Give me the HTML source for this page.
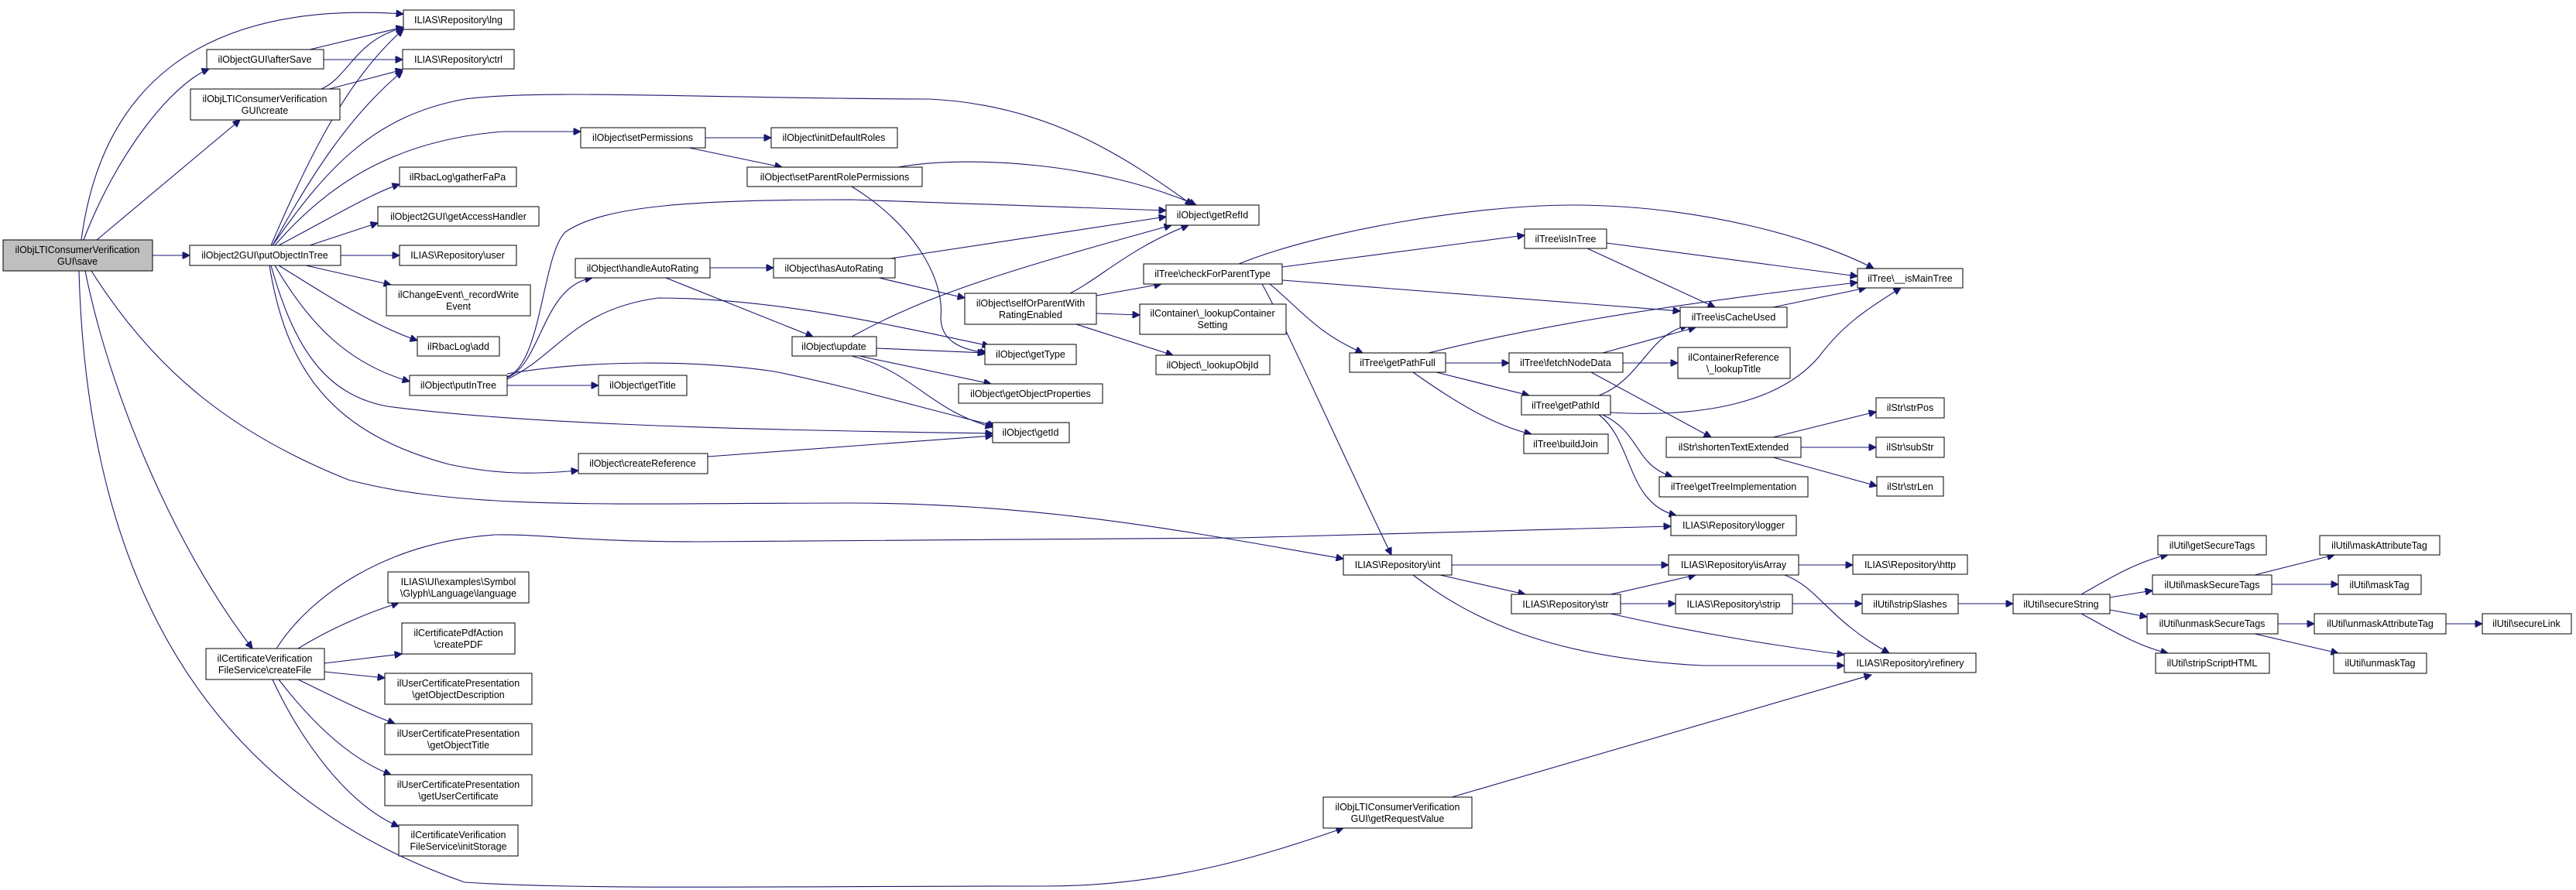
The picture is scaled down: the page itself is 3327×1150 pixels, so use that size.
<!DOCTYPE html>
<html><head><meta charset="utf-8"><style>
html,body{margin:0;padding:0;background:#fff;}
svg{display:block;}
text{font-family:"Liberation Sans",Arial,sans-serif;font-size:12.5px;fill:#000;text-anchor:middle;}
rect{fill:#fff;stroke:#000;stroke-width:1;}
path{fill:none;stroke:#191970;stroke-width:1.1;}
</style></head><body>
<svg width="3327" height="1150" viewBox="0 0 3327 1150" xmlns="http://www.w3.org/2000/svg">
<defs><marker id="a" viewBox="0 0 10 10" refX="10" refY="5" markerWidth="11" markerHeight="9" markerUnits="userSpaceOnUse" orient="auto"><path d="M0,0 L10,5 L0,10 z" style="fill:#191970;stroke:#191970"/></marker></defs>
<g marker-end="url(#a)">
<path d="M105,310 C130,120 250,0 521,18"/>
<path d="M108,310 C150,200 220,110 270,89"/>
<path d="M125,310 L310,155"/>
<path d="M197,330 L245,330"/>
<path d="M118,350 C200,480 300,560 450,620 C600,660 800,650 1100,650 C1350,650 1550,690 1735,722"/>
<path d="M110,350 C140,500 220,700 326,838"/>
<path d="M102,350 C110,650 200,1000 600,1140 C750,1150 1000,1145 1350,1145 C1500,1145 1620,1110 1735,1070"/>
<path d="M350,317 C400,200 450,100 521,38"/>
<path d="M352,317 C400,230 450,150 520,92"/>
<path d="M352,317 C420,220 480,150 600,128 C700,115 900,127 1200,128 C1350,135 1450,200 1540,265"/>
<path d="M355,317 C430,230 520,180 650,170 L750,170"/>
<path d="M360,317 C430,280 480,250 516,238"/>
<path d="M400,317 L488,288"/>
<path d="M440,330 L516,330"/>
<path d="M395,343 L505,368"/>
<path d="M360,343 C420,380 480,420 539,440"/>
<path d="M355,343 C400,420 450,470 529,493"/>
<path d="M350,343 C380,450 420,510 500,525 C650,545 900,555 1282,560"/>
<path d="M348,343 C370,480 430,560 580,600 C650,615 700,612 747,608"/>
<path d="M400,64 L521,35"/>
<path d="M418,77 L520,77"/>
<path d="M415,115 C450,100 460,50 521,36"/>
<path d="M425,115 L520,90"/>
<path d="M911,178 L996,178"/>
<path d="M890,191 L1010,216"/>
<path d="M1160,216 C1250,200 1420,210 1545,265"/>
<path d="M1100,241 C1180,290 1220,360 1215,410 C1215,440 1240,452 1275,456"/>
<path d="M655,488 C700,470 700,370 765,359"/>
<path d="M655,487 C700,470 700,330 730,300 C780,265 900,258 1100,258 L1506,272"/>
<path d="M655,490 C720,460 740,400 850,385 C1000,385 1150,420 1278,447"/>
<path d="M655,498 L773,498"/>
<path d="M655,483 C760,465 900,465 1000,480 C1100,500 1200,530 1285,550"/>
<path d="M917,346 L999,346"/>
<path d="M860,359 L1050,435"/>
<path d="M1150,334 L1506,280"/>
<path d="M1135,359 L1246,385"/>
<path d="M1100,435 C1200,380 1300,350 1513,291"/>
<path d="M1132,450 L1272,456"/>
<path d="M1110,460 L1280,496"/>
<path d="M1100,460 C1180,480 1200,530 1282,552"/>
<path d="M1382,379 C1420,360 1460,320 1535,291"/>
<path d="M1416,382 L1500,367"/>
<path d="M1416,405 L1472,407"/>
<path d="M1390,419 L1515,459"/>
<path d="M1600,341 C1700,300 1900,265 2030,265 C2200,265 2350,310 2420,347"/>
<path d="M1656,345 L1969,304"/>
<path d="M1656,362 L2170,402"/>
<path d="M1640,367 C1680,400 1700,430 1760,456"/>
<path d="M1630,367 C1660,420 1740,600 1797,717"/>
<path d="M2075,314 L2399,357"/>
<path d="M2050,321 L2215,397"/>
<path d="M2290,397 L2410,372"/>
<path d="M1845,456 C1950,430 2100,400 2399,365"/>
<path d="M1867,469 L1949,469"/>
<path d="M1855,481 L1975,511"/>
<path d="M1825,481 C1880,520 1930,550 1978,561"/>
<path d="M2070,456 L2190,423"/>
<path d="M2096,469 L2167,469"/>
<path d="M2055,481 L2210,565"/>
<path d="M2065,511 C2120,490 2130,430 2180,421"/>
<path d="M2080,533 C2200,540 2300,520 2350,460 C2380,420 2410,400 2455,372"/>
<path d="M2070,536 C2120,560 2110,600 2160,616"/>
<path d="M2065,536 C2110,570 2100,650 2165,666"/>
<path d="M2290,565 L2423,532"/>
<path d="M2326,578 L2423,578"/>
<path d="M2290,591 L2424,628"/>
<path d="M1875,730 L2155,730"/>
<path d="M1860,743 L1970,768"/>
<path d="M1825,743 C1900,800 2000,850 2200,860 L2382,860"/>
<path d="M2080,793 C2200,820 2300,835 2382,846"/>
<path d="M2080,768 L2190,743"/>
<path d="M2093,780 L2164,780"/>
<path d="M2323,730 L2393,730"/>
<path d="M2305,743 C2350,760 2360,800 2440,844"/>
<path d="M2315,780 L2405,780"/>
<path d="M2529,780 L2600,780"/>
<path d="M2688,768 C2720,750 2760,725 2800,717"/>
<path d="M2725,772 L2780,763"/>
<path d="M2725,788 L2773,797"/>
<path d="M2688,793 C2720,810 2760,835 2800,844"/>
<path d="M2912,743 L3015,717"/>
<path d="M2934,755 L3020,755"/>
<path d="M2942,806 L2989,806"/>
<path d="M2912,819 L3020,844"/>
<path d="M3159,806 L3206,806"/>
<path d="M1875,1030 L2417,872"/>
<path d="M357,838 C400,770 500,700 640,691 C700,690 750,700 900,700 L1600,695 L2158,680"/>
<path d="M385,838 C430,810 480,790 515,779"/>
<path d="M419,857 L519,845"/>
<path d="M419,868 L497,876"/>
<path d="M385,878 C430,900 470,920 510,935"/>
<path d="M360,878 C400,930 450,980 505,1001"/>
<path d="M352,878 C390,960 450,1040 515,1068"/>
<path d="M914,590 L1282,563"/>
</g>
<g>
<rect x="4" y="310" width="193" height="40" style="fill:#bfbfbf"/><text x="100" y="327">ilObjLTIConsumerVerification</text><text x="100" y="342">GUI\save</text>
<rect x="267" y="64" width="151" height="25"/><text x="342" y="81">ilObjectGUI\afterSave</text>
<rect x="246" y="115" width="193" height="40"/><text x="342" y="132">ilObjLTIConsumerVerification</text><text x="342" y="147">GUI\create</text>
<rect x="245" y="317" width="195" height="26"/><text x="342" y="334">ilObject2GUI\putObjectInTree</text>
<rect x="521" y="13" width="143" height="25"/><text x="592" y="30">ILIAS\Repository\lng</text>
<rect x="520" y="64" width="144" height="25"/><text x="592" y="81">ILIAS\Repository\ctrl</text>
<rect x="516" y="216" width="151" height="25"/><text x="591" y="233">ilRbacLog\gatherFaPa</text>
<rect x="488" y="267" width="208" height="25"/><text x="592" y="284">ilObject2GUI\getAccessHandler</text>
<rect x="516" y="317" width="151" height="26"/><text x="591" y="334">ILIAS\Repository\user</text>
<rect x="499" y="368" width="186" height="40"/><text x="592" y="385">ilChangeEvent\_recordWrite</text><text x="592" y="400">Event</text>
<rect x="539" y="435" width="106" height="25"/><text x="592" y="452">ilRbacLog\add</text>
<rect x="529" y="485" width="126" height="26"/><text x="592" y="502">ilObject\putInTree</text>
<rect x="747" y="586" width="167" height="26"/><text x="830" y="603">ilObject\createReference</text>
<rect x="750" y="165" width="161" height="26"/><text x="830" y="182">ilObject\setPermissions</text>
<rect x="996" y="165" width="163" height="26"/><text x="1077" y="182">ilObject\initDefaultRoles</text>
<rect x="965" y="216" width="226" height="25"/><text x="1078" y="233">ilObject\setParentRolePermissions</text>
<rect x="743" y="334" width="174" height="25"/><text x="830" y="351">ilObject\handleAutoRating</text>
<rect x="999" y="334" width="157" height="25"/><text x="1077" y="351">ilObject\hasAutoRating</text>
<rect x="1023" y="435" width="109" height="25"/><text x="1077" y="452">ilObject\update</text>
<rect x="773" y="485" width="114" height="26"/><text x="830" y="502">ilObject\getTitle</text>
<rect x="1506" y="265" width="120" height="26"/><text x="1566" y="282">ilObject\getRefId</text>
<rect x="1246" y="379" width="170" height="40"/><text x="1331" y="396">ilObject\selfOrParentWith</text><text x="1331" y="411">RatingEnabled</text>
<rect x="1477" y="341" width="179" height="26"/><text x="1566" y="358">ilTree\checkForParentType</text>
<rect x="1472" y="393" width="189" height="39"/><text x="1566" y="409">ilContainer\_lookupContainer</text><text x="1566" y="424">Setting</text>
<rect x="1493" y="459" width="147" height="25"/><text x="1566" y="476">ilObject\_lookupObjId</text>
<rect x="1272" y="445" width="118" height="26"/><text x="1331" y="462">ilObject\getType</text>
<rect x="1238" y="496" width="186" height="25"/><text x="1331" y="513">ilObject\getObjectProperties</text>
<rect x="1282" y="546" width="99" height="26"/><text x="1331" y="563">ilObject\getId</text>
<rect x="1969" y="296" width="106" height="25"/><text x="2022" y="313">ilTree\isInTree</text>
<rect x="2170" y="397" width="138" height="26"/><text x="2239" y="414">ilTree\isCacheUsed</text>
<rect x="2399" y="347" width="136" height="25"/><text x="2467" y="364">ilTree\__isMainTree</text>
<rect x="1743" y="456" width="124" height="25"/><text x="1805" y="473">ilTree\getPathFull</text>
<rect x="1949" y="456" width="147" height="25"/><text x="2022" y="473">ilTree\fetchNodeData</text>
<rect x="2167" y="449" width="145" height="40"/><text x="2239" y="466">ilContainerReference</text><text x="2239" y="481">\_lookupTitle</text>
<rect x="1965" y="511" width="115" height="25"/><text x="2022" y="528">ilTree\getPathId</text>
<rect x="1968" y="561" width="109" height="25"/><text x="2022" y="578">ilTree\buildJoin</text>
<rect x="2152" y="565" width="174" height="26"/><text x="2239" y="582">ilStr\shortenTextExtended</text>
<rect x="2423" y="514" width="88" height="26"/><text x="2467" y="531">ilStr\strPos</text>
<rect x="2423" y="565" width="88" height="26"/><text x="2467" y="582">ilStr\subStr</text>
<rect x="2424" y="616" width="86" height="25"/><text x="2467" y="633">ilStr\strLen</text>
<rect x="2143" y="616" width="192" height="26"/><text x="2239" y="633">ilTree\getTreeImplementation</text>
<rect x="2158" y="666" width="162" height="26"/><text x="2239" y="683">ILIAS\Repository\logger</text>
<rect x="1735" y="717" width="140" height="26"/><text x="1805" y="734">ILIAS\Repository\int</text>
<rect x="2155" y="717" width="168" height="26"/><text x="2239" y="734">ILIAS\Repository\isArray</text>
<rect x="2393" y="717" width="148" height="25"/><text x="2467" y="734">ILIAS\Repository\http</text>
<rect x="1952" y="768" width="141" height="25"/><text x="2022" y="785">ILIAS\Repository\str</text>
<rect x="2164" y="768" width="151" height="25"/><text x="2239" y="785">ILIAS\Repository\strip</text>
<rect x="2405" y="768" width="124" height="25"/><text x="2467" y="785">ilUtil\stripSlashes</text>
<rect x="2600" y="768" width="125" height="25"/><text x="2662" y="785">ilUtil\secureString</text>
<rect x="2382" y="844" width="170" height="25"/><text x="2467" y="861">ILIAS\Repository\refinery</text>
<rect x="2787" y="692" width="140" height="25"/><text x="2857" y="709">ilUtil\getSecureTags</text>
<rect x="2780" y="743" width="154" height="25"/><text x="2857" y="760">ilUtil\maskSecureTags</text>
<rect x="2773" y="793" width="169" height="26"/><text x="2857" y="810">ilUtil\unmaskSecureTags</text>
<rect x="2784" y="844" width="147" height="26"/><text x="2857" y="861">ilUtil\stripScriptHTML</text>
<rect x="2996" y="692" width="155" height="25"/><text x="3073" y="709">ilUtil\maskAttributeTag</text>
<rect x="3020" y="743" width="107" height="25"/><text x="3073" y="760">ilUtil\maskTag</text>
<rect x="2989" y="793" width="170" height="26"/><text x="3074" y="810">ilUtil\unmaskAttributeTag</text>
<rect x="3014" y="844" width="120" height="26"/><text x="3074" y="861">ilUtil\unmaskTag</text>
<rect x="3206" y="793" width="115" height="26"/><text x="3263" y="810">ilUtil\secureLink</text>
<rect x="1709" y="1030" width="192" height="40"/><text x="1805" y="1047">ilObjLTIConsumerVerification</text><text x="1805" y="1062">GUI\getRequestValue</text>
<rect x="266" y="838" width="153" height="40"/><text x="342" y="855">ilCertificateVerification</text><text x="342" y="870">FileService\createFile</text>
<rect x="501" y="739" width="182" height="40"/><text x="592" y="756">ILIAS\UI\examples\Symbol</text><text x="592" y="771">\Glyph\Language\language</text>
<rect x="519" y="805" width="146" height="40"/><text x="592" y="822">ilCertificatePdfAction</text><text x="592" y="837">\createPDF</text>
<rect x="497" y="870" width="190" height="40"/><text x="592" y="887">ilUserCertificatePresentation</text><text x="592" y="902">\getObjectDescription</text>
<rect x="497" y="935" width="190" height="40"/><text x="592" y="952">ilUserCertificatePresentation</text><text x="592" y="967">\getObjectTitle</text>
<rect x="497" y="1001" width="190" height="40"/><text x="592" y="1018">ilUserCertificatePresentation</text><text x="592" y="1033">\getUserCertificate</text>
<rect x="515" y="1066" width="154" height="40"/><text x="592" y="1083">ilCertificateVerification</text><text x="592" y="1098">FileService\initStorage</text>
</g>
</svg>
</body></html>
